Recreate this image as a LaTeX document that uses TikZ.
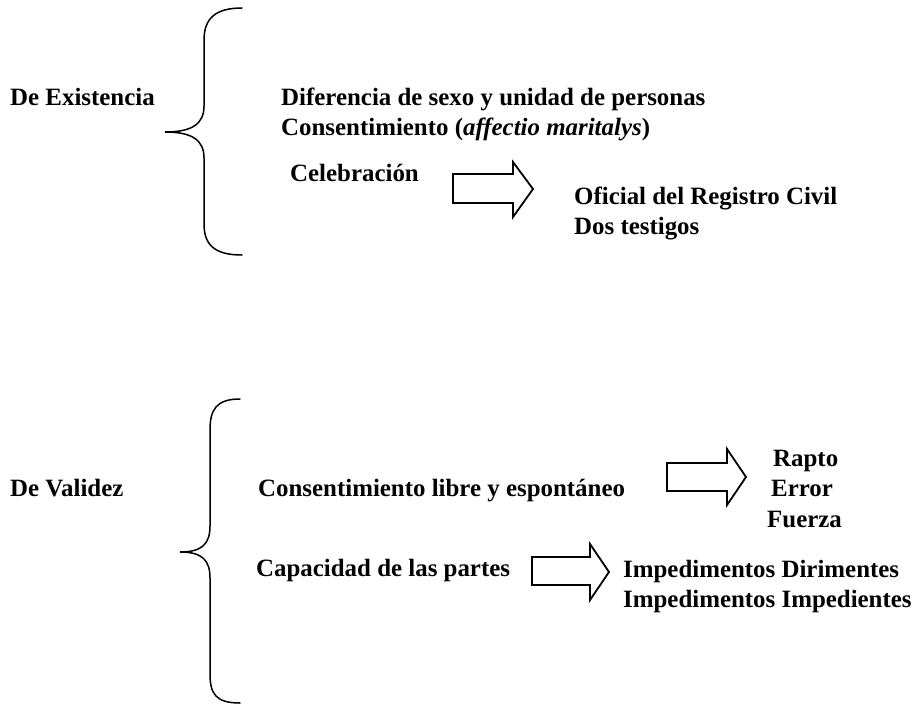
\documentclass[tikz,border=0pt]{standalone}
\usepackage{fontspec}
\setmainfont{Liberation Serif}
\begin{document}
\begin{tikzpicture}[x=1bp,y=-1bp,
  lbl/.style={anchor=base west, inner sep=0pt, font=\bfseries\fontsize{24.9bp}{29bp}\selectfont},
  bracepath/.style={draw=black, line width=1.5bp, line cap=round},
  fatarrow/.style={draw=black, line width=1.8bp, line join=miter, fill=white}]
\useasboundingbox (0,0) rectangle (923,704);
% upper group
\node[lbl] (exist) at (10,106) {De Existencia};
\node[lbl] (dif) at (281,106) {Diferencia de sexo y unidad de personas};
\node[lbl] (cons) at (281,136) {Consentimiento (\textit{affectio maritalys})};
\node[lbl] (celeb) at (290,182) {Celebración};
\node[lbl] (ofic) at (574,204) {Oficial del Registro Civil};
\node[lbl] (dos) at (574,234) {Dos testigos};
% lower group
\node[lbl] (valid) at (10,496) {De Validez};
\node[lbl] (libre) at (258,496) {Consentimiento libre y espontáneo};
\node[lbl] (rapto) at (773,466) {Rapto};
\node[lbl] (error) at (771,496) {Error};
\node[lbl] (fuerza) at (767,527) {Fuerza};
\node[lbl] (capac) at (256,576) {Capacidad de las partes};
\node[lbl] (dirim) at (623,577) {Impedimentos Dirimentes};
\node[lbl] (imped) at (623,607) {Impedimentos Impedientes};
% braces
\path[bracepath] (242,8) .. controls (216,8) and (204,18) .. (204,40)
  -- (204,106) .. controls (204,124) and (192,132) .. (165,132)
  .. controls (192,132) and (204,140) .. (204,158)
  -- (204,224) .. controls (204,246) and (216,255) .. (242,255);
\path[bracepath] (240,399) .. controls (216,399) and (210,410) .. (210,430)
  -- (210,526) .. controls (210,544) and (202,552) .. (180,552)
  .. controls (202,552) and (210,560) .. (210,578)
  -- (210,674) .. controls (210,694) and (216,703) .. (240,703);
% block arrows
\path[fatarrow] (453,174) -- (513,174) -- (513,162) -- (533,189) -- (513,217) -- (513,203) -- (453,203) -- cycle;
\path[fatarrow] (667,463) -- (727,463) -- (727,449) -- (746,477) -- (727,505) -- (727,491) -- (667,491) -- cycle;
\path[fatarrow] (532,557) -- (590,557) -- (590,544) -- (609,572) -- (590,600) -- (590,585) -- (532,585) -- cycle;
\end{tikzpicture}
\end{document}
